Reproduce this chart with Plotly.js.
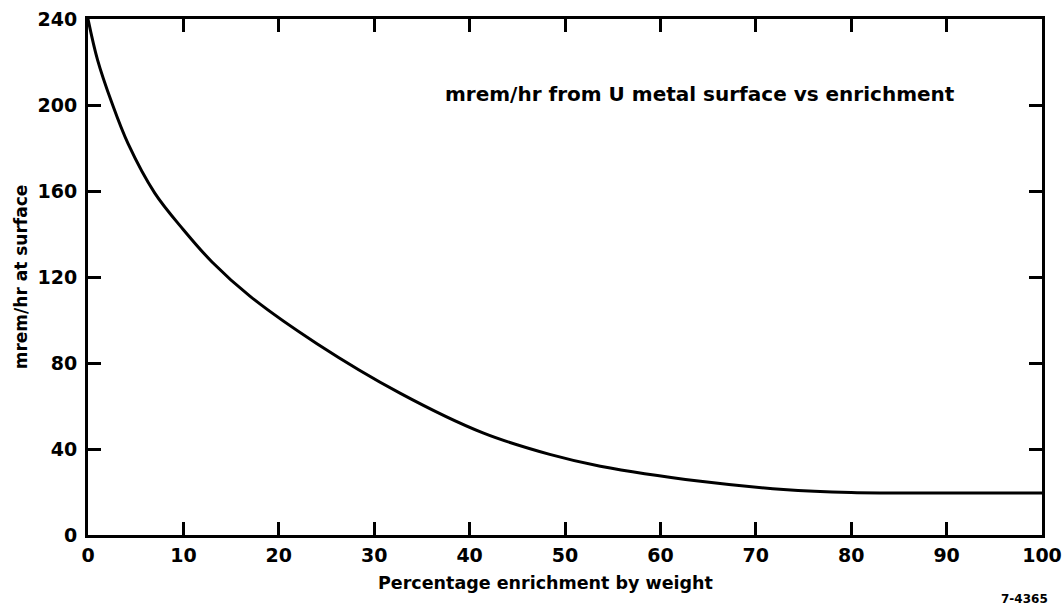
<!DOCTYPE html>
<html>
<head>
<meta charset="utf-8">
<script src="https://cdn.plot.ly/plotly-3.0.1.min.js"></script>
<style>html,body{margin:0;padding:0;background:#fff;}#chart{width:1062px;height:606px;}</style>
</head>
<body>
<div id="chart"></div>
<script>
// Percentage enrichment by weight
const enrichment = [0, 1, 2.5, 4.2, 7, 10, 13, 17, 24, 32.7, 41.4, 48.4, 53.7, 64.2, 72.9, 80, 90, 100];
// mrem/hr at surface
const doseRate = [240, 221, 201, 182, 159, 142, 127, 111, 89, 66, 47.5, 37.5, 32, 25, 21.2, 19.8, 19.5, 19.5];
const xTicks = [0, 10, 20, 30, 40, 50, 60, 70, 80, 90, 100];
const yTicks = [0, 40, 80, 120, 160, 200, 240];

const FONT = "DejaVu Sans";
const trace = {
  x: enrichment, y: doseRate, type: 'scatter', mode: 'lines',
  line: {color: '#000', width: 3, shape: 'spline', smoothing: 1},
  hoverinfo: 'skip'
};
const axisCommon = {
  showline: true, linecolor: '#000', linewidth: 3, mirror: 'ticks',
  ticks: 'inside', ticklen: 13, tickwidth: 3, tickcolor: '#000',
  showgrid: false, zeroline: false,
  tickfont: {family: FONT, size: 19, color: '#000', weight: 'bold'}
};
const layout = {
  width: 1062, height: 606,
  margin: {l: 88, r: 20, t: 19, b: 71},
  paper_bgcolor: '#fff', plot_bgcolor: '#fff',
  showlegend: false,
  xaxis: Object.assign({}, axisCommon, {
    range: [0, 100], tickvals: xTicks, ticktext: xTicks.map(String),
    ticklabelstandoff: 1
  }),
  yaxis: Object.assign({}, axisCommon, {
    range: [0, 240], tickvals: yTicks, ticktext: yTicks.map(String),
    ticklabelstandoff: 4,
    title: {text: 'mrem/hr at surface', font: {family: FONT, size: 17, color: '#000', weight: 'bold'}, standoff: 6}
  }),
  annotations: [
    {text: 'mrem/hr from U metal surface vs enrichment', xref: 'paper', yref: 'paper',
     x: 0.372, y: 0.855, xanchor: 'left', yanchor: 'middle', showarrow: false,
     font: {family: FONT, size: 20, color: '#000', weight: 'bold'}},
    {text: 'Percentage enrichment by weight', xref: 'paper', yref: 'paper',
     x: 0.48, y: -0.093, xanchor: 'center', yanchor: 'middle', showarrow: false,
     font: {family: FONT, size: 17.5, color: '#000', weight: 'bold'}},
    {text: '7-4365', xref: 'paper', yref: 'paper', x: 0.982, y: -0.124, xanchor: 'center', yanchor: 'middle',
     showarrow: false, font: {family: FONT, size: 12, color: '#000', weight: 'bold'}}
  ]
};
Plotly.newPlot('chart', [trace], layout, {displayModeBar: false, staticPlot: true});
</script>
</body>
</html>
